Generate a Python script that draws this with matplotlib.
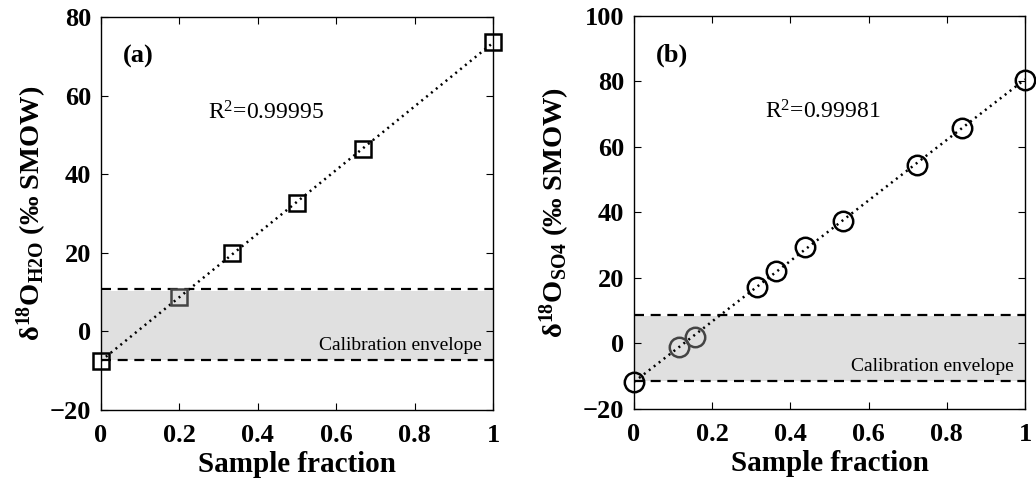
import numpy as np
import matplotlib
matplotlib.use("Agg")
import matplotlib.pyplot as plt

plt.rcParams['font.family'] = ['Liberation Serif', 'DejaVu Serif']
plt.rcParams['mathtext.fontset'] = 'custom'
plt.rcParams['mathtext.rm'] = 'Liberation Serif'
plt.rcParams['mathtext.bf'] = 'Liberation Serif:bold'
plt.rcParams['mathtext.it'] = 'Liberation Serif:italic'

# panel (a) data
frac_a = [0, 0.2, 0.333, 0.5, 0.667, 1.0]
d18_a = [-7.6, 8.8, 19.9, 32.7, 46.3, 73.6]
inside_a = [False, True, False, False, False, False]
env_a = (-7.3, 10.8)
fill_a = (-7.3, 10.4)
r2_a = 'R$^2$=0.99995'

# panel (b) data
frac_b = [0, 0.116, 0.155, 0.315, 0.363, 0.436, 0.534, 0.723, 0.839, 1.0]
d18_b = [-11.7, -1.0, 2.1, 17.3, 22.0, 29.4, 37.5, 54.6, 65.9, 80.6]
inside_b = [False, True, True, False, False, False, False, False, False, False]
env_b = (-11.5, 8.7)
fill_b = (-11.3, 8.3)
r2_b = 'R$^2$=0.99981'

fig = plt.figure(figsize=(10.36, 4.92), dpi=100)
ax1 = fig.add_axes([0.0975, 0.1667, 0.3785, 0.7987])
ax2 = fig.add_axes([0.612, 0.1687, 0.3774, 0.7988])


def draw_panel(ax, x, y, inside, env, fill, marker, ms, ylim, yticks, r2, r2pos, tag, ylab, envy, ypad):
    x = np.array(x)
    y = np.array(y)
    ax.axhspan(fill[0], fill[1], color='#e0e0e0', lw=0, zorder=1)
    ax.axhline(env[0], color='k', ls=(0, (4.5, 3)), lw=1.6, zorder=2)
    ax.axhline(env[1], color='k', ls=(0, (4.5, 3)), lw=1.6, zorder=2)
    k, b = np.polyfit(x, y, 1)
    xx = np.array([0.0, 1.0])
    ax.plot(xx, k * xx + b, color='k', ls=(0, (0.8, 1.7)), lw=1.8, zorder=3)
    for xi, yi, ins in zip(x, y, inside):
        ax.plot(xi, yi, marker=marker, ms=ms, mfc='none',
                mec='#444444' if ins else 'k', mew=1.8, ls='none', zorder=4, clip_on=False)
    ax.set_xlim(0, 1)
    ax.set_ylim(*ylim)
    ax.set_xticks([0, 0.2, 0.4, 0.6, 0.8, 1])
    ax.set_xticklabels(['0', '0.2', '0.4', '0.6', '0.8', '1'])
    ax.set_yticks(yticks)
    ax.set_yticklabels([('\u2212' + str(-t)) if t < 0 else str(t) for t in yticks])
    ax.tick_params(direction='in', top=True, right=True, length=5, width=0.8,
                   labelsize=19)
    ax.tick_params(axis='x', pad=10)
    ax.tick_params(axis='y', pad=7)
    for lab in ax.get_xticklabels() + ax.get_yticklabels():
        lab.set_fontweight('bold')
    for s in ax.spines.values():
        s.set_linewidth(1.0)
    ax.set_xlabel('Sample fraction', fontsize=21, fontweight='bold', labelpad=3)
    ax.set_ylabel(ylab, fontsize=20.5, fontweight='bold', labelpad=ypad)
    ax.text(r2pos[0], r2pos[1], r2, fontsize=17, va='center', ha='left')
    ax.text(0.055, 0.9, tag, transform=ax.transAxes, fontsize=19,
            fontweight='bold', va='center', ha='left')
    ax.text(0.972, envy, 'Calibration envelope', fontsize=14, ha='right', va='center')


draw_panel(ax1, frac_a, d18_a, inside_a, env_a, fill_a, 's', 11, (-20, 80),
           [-20, 0, 20, 40, 60, 80], r2_a, (0.272, 55.6), '(a)',
           r'$\mathbf{\delta^{18}O_{H2O}}$ (‰ SMOW)', -3.5, 1)
draw_panel(ax2, frac_b, d18_b, inside_b, env_b, fill_b, 'o', 14, (-20, 100),
           [-20, 0, 20, 40, 60, 80, 100], r2_b, (0.336, 70.8), '(b)',
           r'$\mathbf{\delta^{18}O_{SO4}}$ (‰ SMOW)', -7.0, 8)

fig.savefig('out.png', dpi=100)
